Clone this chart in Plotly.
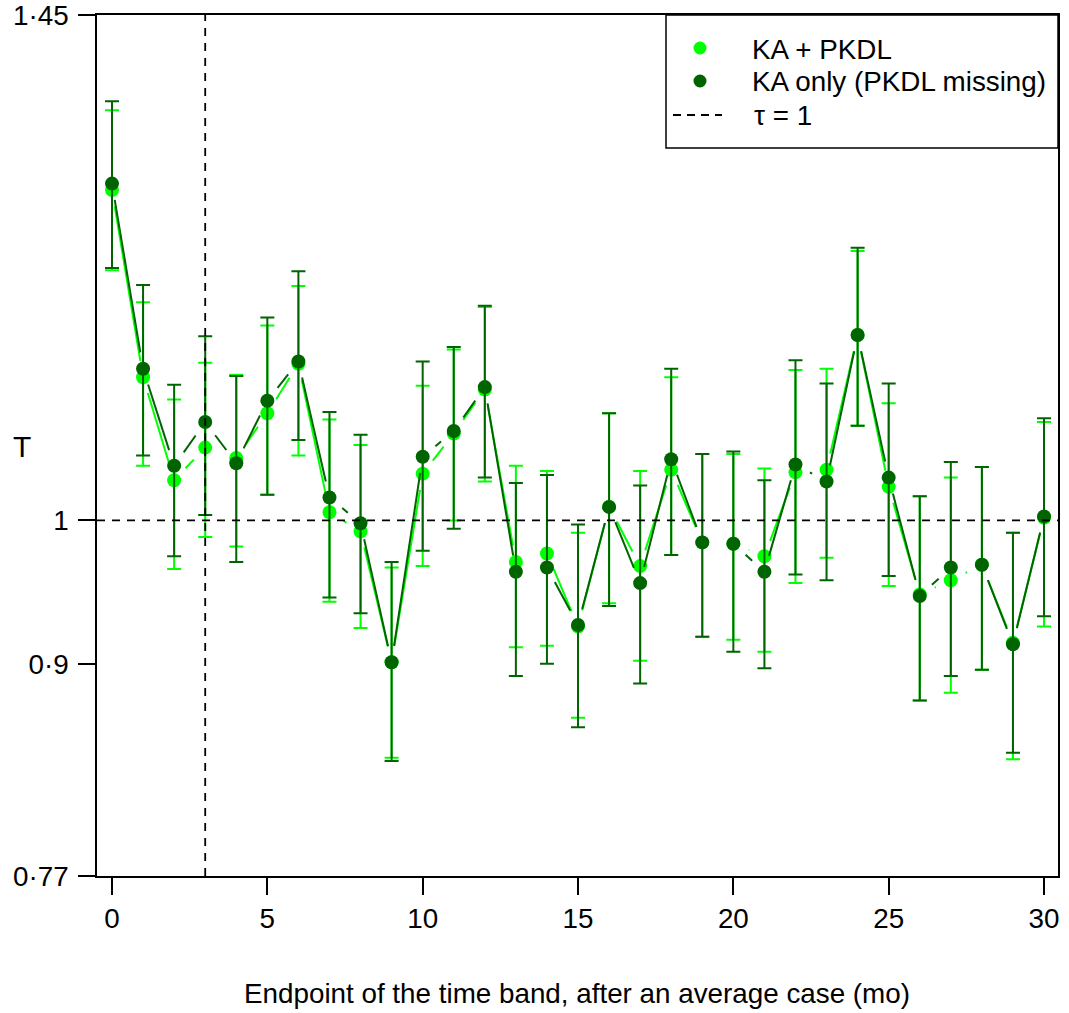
import math
import plotly.graph_objects as go

# Time-band endpoints (months after an average case)
band_end = list(range(31))

# KA + PKDL: ratio estimate with lower / upper bounds
ka_pkdl_est = [1.275, 1.111, 1.030, 1.055, 1.047, 1.082, 1.122, 1.006, 0.992, 0.901,
               1.035, 1.066, 1.101, 0.970, 0.976, 0.925, 1.010, 0.967, 1.038, 0.984,
               0.983, 0.974, 1.036, 1.038, 1.146, 1.025, 0.947, 0.957, 0.968, 0.914, 1.002]
ka_pkdl_lo = [1.202, 1.041, 0.965, 0.988, 0.981, 1.019, 1.049, 0.942, 0.924, 0.840,
              0.967, 1.000, 1.029, 0.911, 0.912, 0.865, 0.941, 0.902, 0.975, 0.918,
              0.916, 0.908, 0.955, 0.973, 1.072, 0.953, 0.876, 0.881, 0.896, 0.839, 0.925]
ka_pkdl_hi = [1.352, 1.174, 1.093, 1.123, 1.113, 1.154, 1.188, 1.077, 1.057, 0.966,
              1.104, 1.134, 1.170, 1.041, 1.037, 0.991, 1.082, 1.037, 1.111, 1.050,
              1.050, 1.039, 1.117, 1.118, 1.219, 1.090, 1.018, 1.032, 1.040, 0.991, 1.075]

# KA only (PKDL missing)
ka_only_est = [1.281, 1.118, 1.041, 1.075, 1.043, 1.092, 1.124, 1.017, 0.998, 0.901,
               1.048, 1.068, 1.103, 0.963, 0.966, 0.926, 1.010, 0.955, 1.046, 0.984,
               0.983, 0.963, 1.042, 1.029, 1.146, 1.032, 0.946, 0.966, 0.968, 0.913, 1.003]
ka_only_lo = [1.204, 1.049, 0.974, 1.004, 0.970, 1.019, 1.061, 0.945, 0.934, 0.838,
              0.978, 0.994, 1.032, 0.892, 0.900, 0.859, 0.939, 0.887, 0.975, 0.918,
              0.908, 0.897, 0.961, 0.957, 1.072, 0.960, 0.876, 0.892, 0.896, 0.843, 0.932]
ka_only_hi = [1.361, 1.189, 1.105, 1.145, 1.112, 1.161, 1.201, 1.083, 1.065, 0.970,
              1.124, 1.136, 1.171, 1.028, 1.034, 0.997, 1.082, 1.026, 1.118, 1.050,
              1.052, 1.030, 1.125, 1.106, 1.222, 1.106, 1.018, 1.044, 1.040, 0.991, 1.078]

y_tick_vals = [0.77, 0.9, 1, 1.45]
y_tick_text = ["0·77", "0·9", "1", "1·45"]
x_tick_vals = [0, 5, 10, 15, 20, 25, 30]

LIGHT = "#00FF00"
DARK = "#006400"
FONT = "Liberation Sans, Arial, sans-serif"
FS = 27.8

W, H = 1069, 1013
ML, MR, MT, MB = 97, 11, 15, 137
X_RANGE = [-0.483, 30.45]
Y_RANGE = [math.log10(0.77), math.log10(1.45)]
px_x = (W - ML - MR) / (X_RANGE[1] - X_RANGE[0])
px_y = (H - MT - MB) / (Y_RANGE[1] - Y_RANGE[0])
GAP = 16.5  # pixels left open around each point on the connecting line


def gapped_path(xs, ys):
    """Segments between consecutive points, trimmed near each point (type 'b' look)."""
    px, py = [], []
    for i in range(len(xs) - 1):
        x0, x1 = xs[i], xs[i + 1]
        l0, l1 = math.log10(ys[i]), math.log10(ys[i + 1])
        length = math.hypot((x1 - x0) * px_x, (l1 - l0) * px_y)
        if length <= 2 * GAP:
            continue
        f = GAP / length
        px += [x0 + f * (x1 - x0), x1 - f * (x1 - x0), None]
        py += [10 ** (l0 + f * (l1 - l0)), 10 ** (l1 - f * (l1 - l0)), None]
    return px, py


fig = go.Figure()

for est, lo, hi, col in [(ka_pkdl_est, ka_pkdl_lo, ka_pkdl_hi, LIGHT),
                         (ka_only_est, ka_only_lo, ka_only_hi, DARK)]:
    lx, ly = gapped_path(band_end, est)
    fig.add_trace(go.Scatter(x=lx, y=ly, mode="lines", line=dict(color=col, width=2),
                             showlegend=False, hoverinfo="skip"))
    fig.add_trace(go.Scatter(
        x=band_end, y=est, mode="markers",
        marker=dict(color=col, size=14, line=dict(width=0)),
        error_y=dict(type="data", symmetric=False,
                     array=[h - e for h, e in zip(hi, est)],
                     arrayminus=[e - l for e, l in zip(est, lo)],
                     color=col, thickness=2, width=7),
        showlegend=False))

# reference lines
fig.add_shape(type="line", xref="x", yref="paper", x0=3, x1=3, y0=0, y1=1,
              line=dict(color="black", width=1.8, dash="8px,7px"), layer="above")
fig.add_shape(type="line", xref="paper", yref="y", x0=0, x1=1, y0=1, y1=1,
              line=dict(color="black", width=1.8, dash="8px,7px"), layer="above")


def px2paper_x(px):
    return (px - ML) / (W - ML - MR)


def px2paper_y(py):
    return (H - MB - py) / (H - MT - MB)


# legend box
fig.add_shape(type="rect", xref="paper", yref="paper",
              x0=px2paper_x(666), x1=1, y0=px2paper_y(148), y1=1,
              line=dict(color="black", width=1.5), fillcolor="white", layer="above")
for cy, col in [(48, LIGHT), (81, DARK)]:
    fig.add_shape(type="circle", xref="paper", yref="paper",
                  xsizemode="pixel", ysizemode="pixel",
                  xanchor=px2paper_x(700), yanchor=px2paper_y(cy),
                  x0=-6.5, x1=6.5, y0=-6.5, y1=6.5,
                  fillcolor=col, line=dict(width=0), layer="above")
fig.add_shape(type="line", xref="paper", yref="paper",
              x0=px2paper_x(673), x1=px2paper_x(722),
              y0=px2paper_y(115), y1=px2paper_y(115),
              line=dict(color="black", width=1.8, dash="8px,6px"), layer="above")

legend_labels = [("KA + PKDL", 750, 49), ("KA only (PKDL missing)", 750, 81), ("τ = 1", 752, 115)]
for txt, lx, ly in legend_labels:
    fig.add_annotation(text=txt, xref="paper", yref="paper",
                       x=px2paper_x(lx), y=px2paper_y(ly), xanchor="left", yanchor="middle",
                       showarrow=False, font=dict(family=FONT, size=FS, color="black"))

# axis titles
fig.add_annotation(text="Endpoint of the time band, after an average case (mo)",
                   xref="paper", yref="paper", x=px2paper_x(577), y=px2paper_y(993),
                   xanchor="center", yanchor="middle", showarrow=False,
                   font=dict(family=FONT, size=FS, color="black"))
fig.add_annotation(text="T", xref="paper", yref="paper",
                   x=px2paper_x(22), y=px2paper_y(446),
                   xanchor="center", yanchor="middle", showarrow=False,
                   font=dict(family=FONT, size=30, color="black"))

axis_common = dict(showgrid=False, zeroline=False, showline=True, mirror=True,
                   linecolor="black", linewidth=1.5, ticks="outside", ticklen=17,
                   tickwidth=1.5, tickcolor="black", automargin=False,
                   ticklabeloverflow="allow",
                   tickfont=dict(family=FONT, size=FS, color="black"))

fig.update_xaxes(range=X_RANGE, tickmode="array", tickvals=x_tick_vals, **axis_common)
fig.update_yaxes(type="log", range=Y_RANGE, tickmode="array", tickvals=y_tick_vals,
                 ticktext=y_tick_text, ticklabelstandoff=4, **axis_common)

fig.update_layout(width=W, height=H, margin=dict(l=ML, r=MR, t=MT, b=MB),
                  plot_bgcolor="white", paper_bgcolor="white", showlegend=False,
                  font=dict(family=FONT, size=FS, color="black"))

fig.write_html("out.html")
